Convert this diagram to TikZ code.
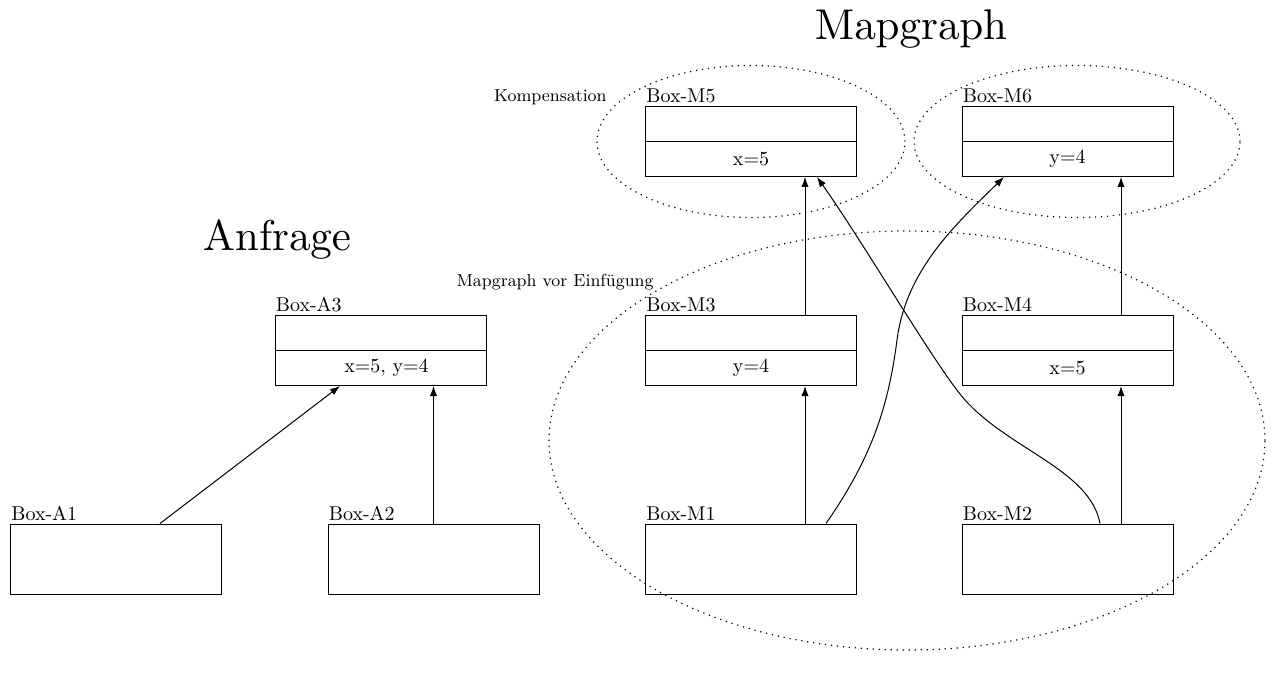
\documentclass[tikz,border=0pt]{standalone}
\usetikzlibrary{arrows.meta}
\font\headfont=cmr10 at 21.5pt
\begin{document}
\begin{tikzpicture}[x=0.5pt,y=-0.5pt,
  box/.style={draw,line width=0.5pt,minimum width=105.5pt,minimum height=35pt,inner sep=0pt},
  lbl/.style={anchor=base west,inner sep=0pt,font=\normalsize},
  val/.style={inner sep=0pt,font=\normalsize},
  title/.style={anchor=base,inner sep=0pt,font=\headfont},
  note/.style={anchor=base east,inner sep=0pt,font=\fontsize{8.7}{10}\selectfont},
  arr/.style={line width=0.5pt,-{Latex[length=5pt,width=3.6pt]}},
  group/.style={line width=0.6pt,dash pattern=on 0.6pt off 2.4pt}]
\useasboundingbox (0,0) rectangle (1274,679);

% titles
\node[title] (tMap) at (911,40) {Mapgraph};
\node[title] (tAnf) at (277,250) {Anfrage};

% query boxes
\node[box] (A1) at (116,559) {};
\node[box] (A2) at (433.5,559) {};
\node[box] (A3) at (380.5,350.5) {};
\draw[line width=0.5pt] (A3.west) -- (A3.east);
\node[val] (vA3) at ([shift={(3pt,-8.75pt)}]A3.center) {x=5, y=4};

% map graph boxes
\node[box] (M1) at (751,559) {};
\node[box] (M2) at (1067.5,559) {};
\node[box] (M3) at (751,350.5) {};
\node[box] (M4) at (1067.5,350.5) {};
\node[box] (M5) at (751,141.5) {};
\node[box] (M6) at (1067.5,141.5) {};
\foreach \b in {M3,M4,M5,M6} \draw[line width=0.5pt] (\b.west) -- (\b.east);
\node[val] (vM3) at ([yshift=-8.75pt]M3.center) {y=4};
\node[val] (vM4) at ([yshift=-8.75pt]M4.center) {x=5};
\node[val] (vM5) at ([yshift=-8.75pt]M5.center) {x=5};
\node[val] (vM6) at ([yshift=-8.75pt]M6.center) {y=4};

% box names
\foreach \b in {A1,A2,A3,M1,M2,M3,M4,M5,M6}
  \node[lbl] (l\b) at ([shift={(0.5pt,1.5pt)}]\b.north west) {Box-\b};

% groupings
\draw[group] (751,141.5) ellipse [x radius=77pt,y radius=38pt];
\draw[group] (1077,141.5) ellipse [x radius=81.5pt,y radius=38pt];
\draw[group] (907,440.5) ellipse [x radius=179pt,y radius=104.75pt];
\node[note] (nK) at (607,102) {Kompensation};
\node[note] (nV) at (654,286) {Mapgraph vor Einfügung};

% connectors
\draw[arr] ([xshift=22pt]A1.north) -- ([xshift=-20.25pt]A3.south);
\draw[arr] (A2.north) -- (A2.north |- A3.south);
\draw[arr] ([xshift=27pt]M1.north) -- ([xshift=27pt]M3.south);
\draw[arr] ([xshift=27pt]M3.north) -- ([xshift=27pt]M5.south);
\draw[arr] ([xshift=26.75pt]M2.north) -- ([xshift=26.75pt]M4.south);
\draw[arr] ([xshift=26.75pt]M4.north) -- ([xshift=26.75pt]M6.south);
\draw[arr] ([xshift=37.5pt]M1.north) .. controls (870,460) and (888,410) .. (897,340)
  .. controls (906,270) and (955,225) .. ([xshift=-31.75pt]M6.south);
\draw[arr] ([xshift=16.25pt]M2.north) .. controls (1090,470) and (1010,450) .. (965,400)
  .. controls (938,370) and (865,245) .. ([xshift=33pt]M5.south);
\end{tikzpicture}
\end{document}
